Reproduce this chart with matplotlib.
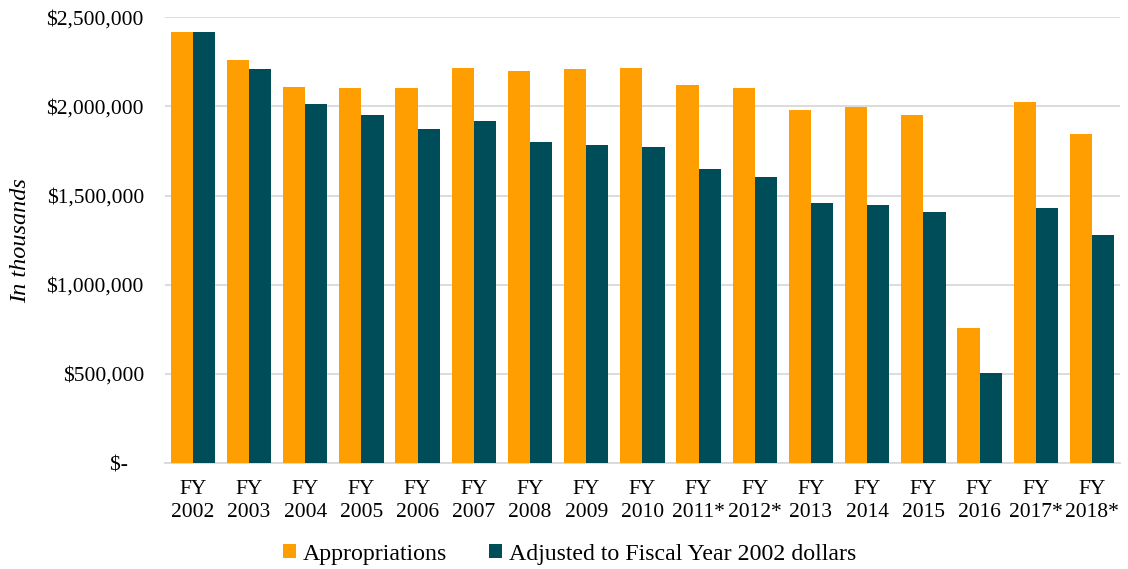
import matplotlib
matplotlib.use("Agg")
import matplotlib.pyplot as plt
import numpy as np
from matplotlib.ticker import FuncFormatter

categories = ["FY\n2002", "FY\n2003", "FY\n2004", "FY\n2005", "FY\n2006", "FY\n2007",
              "FY\n2008", "FY\n2009", "FY\n2010", "FY\n2011*", "FY\n2012*", "FY\n2013",
              "FY\n2014", "FY\n2015", "FY\n2016", "FY\n2017*", "FY\n2018*"]
appropriations = [2416000, 2259000, 2108000, 2102000, 2102000, 2214000, 2197000, 2208000,
                  2214000, 2119000, 2102000, 1979000, 1996000, 1951000, 757000, 2024000, 1844000]
adjusted = [2416000, 2208000, 2012000, 1951000, 1872000, 1917000, 1799000, 1783000,
            1771000, 1648000, 1603000, 1457000, 1446000, 1407000, 504000, 1429000, 1278000]
series_names = ["Appropriations", "Adjusted to Fiscal Year 2002 dollars"]

plt.rcParams['font.family'] = ['Liberation Serif', 'DejaVu Serif']

fig = plt.figure(figsize=(11.28, 5.69), dpi=100)
ax = fig.add_axes([0.146, 0.186, 0.847, 0.784])

x = np.arange(len(categories))
w = 0.395
orange = "#FF9E00"
teal = "#004D5A"
ax.bar(x - w/2, appropriations, w, color=orange, label=series_names[0], zorder=3)
ax.bar(x + w/2, adjusted, w, color=teal, label=series_names[1], zorder=3)

ax.set_xlim(-0.5, len(categories) - 0.5)
ax.set_ylim(0, 2500000)
ax.set_yticks(np.arange(0, 2500001, 500000))
ax.yaxis.set_major_formatter(FuncFormatter(lambda v, p: "$-   " if v == 0 else "${:,.0f}".format(v)))
ax.grid(axis='y', color="#D9D9D9", linewidth=1.3, zorder=0)
for s in ["top", "right", "left"]:
    ax.spines[s].set_visible(False)
ax.spines["bottom"].set_color("#D9D9D9")
ax.spines["bottom"].set_linewidth(1.3)
ax.tick_params(axis='both', length=0, labelsize=15.5, colors="black")
ax.tick_params(axis='y', pad=15)
ax.tick_params(axis='x', pad=12)
ax.set_xticks(x)
ax.set_xticklabels(categories, linespacing=1.3)
ax.set_ylabel("In thousands", fontsize=17.5, style='italic', labelpad=11)

fig.legend(loc='lower center', bbox_to_anchor=(0.505, -0.03), ncol=2, frameon=False,
           fontsize=17.2, handlelength=0.55, handleheight=0.55, handletextpad=0.3,
           columnspacing=1.75)

fig.savefig("out.png", dpi=100)
